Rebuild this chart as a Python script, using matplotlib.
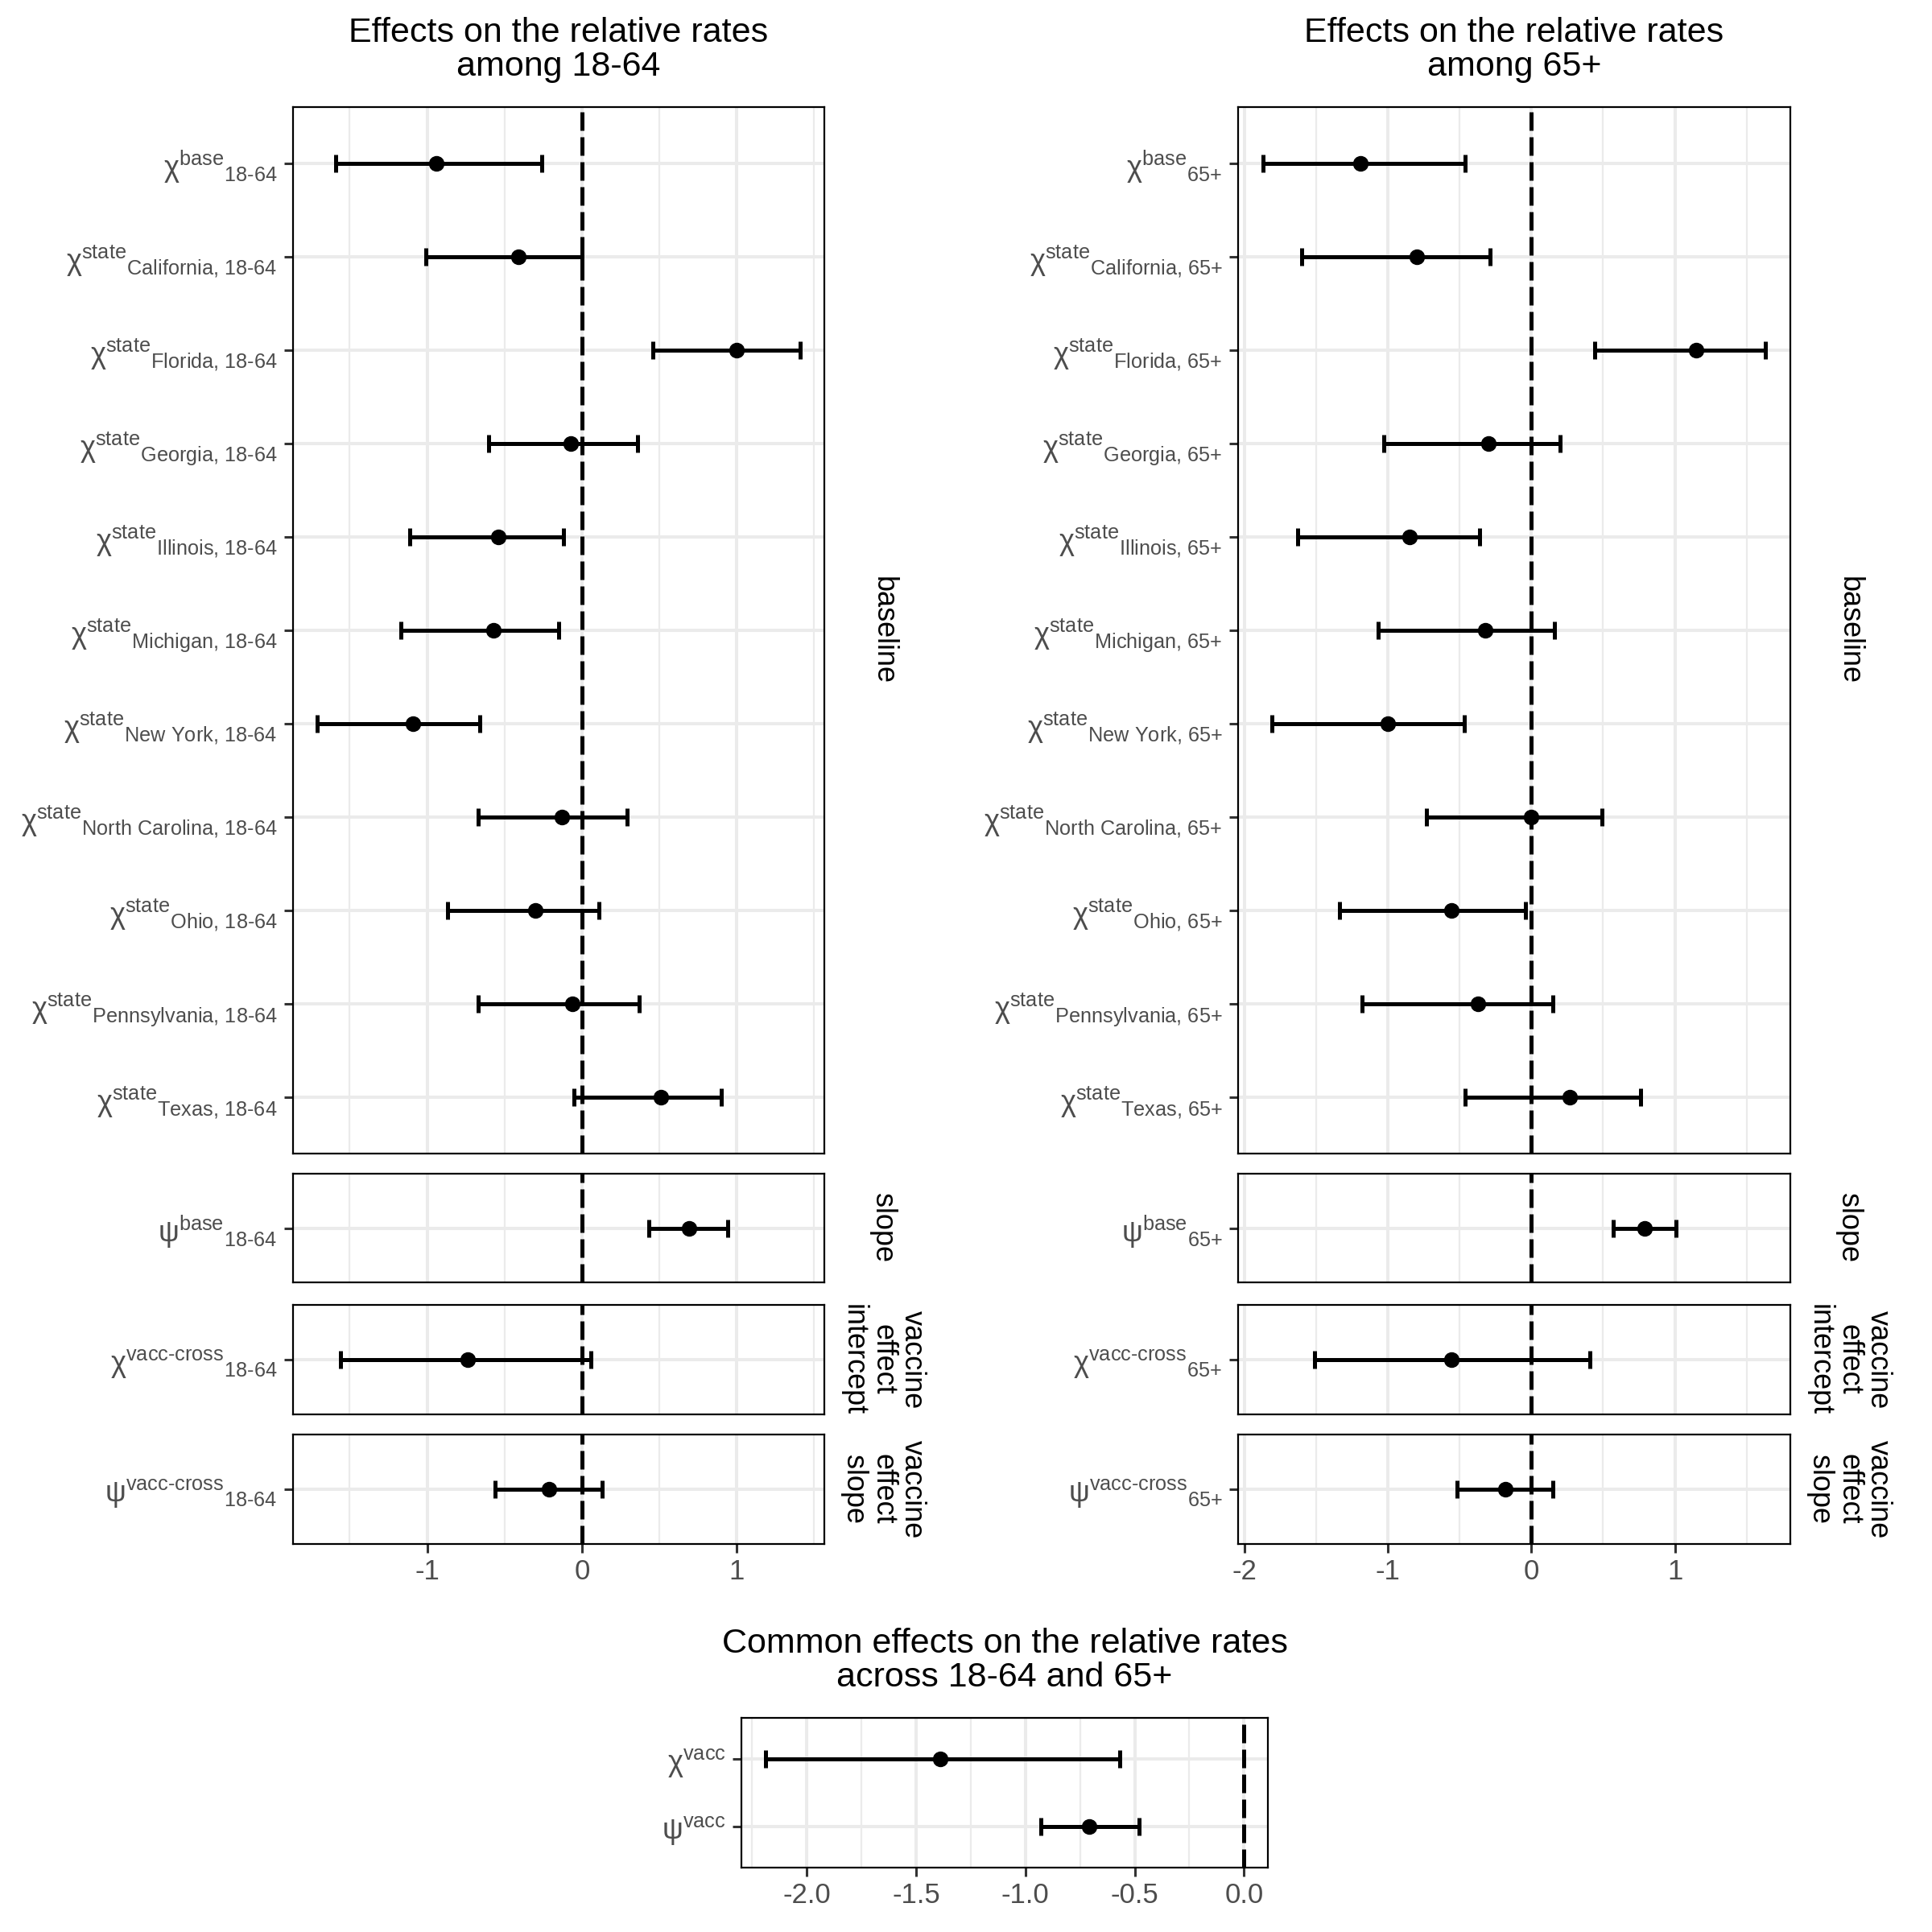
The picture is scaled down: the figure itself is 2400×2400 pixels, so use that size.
import matplotlib
matplotlib.use("Agg")
import matplotlib.pyplot as plt
import numpy as np
from matplotlib.ticker import MultipleLocator

plt.rcParams['font.family'] = ['Liberation Sans', 'DejaVu Sans']
plt.rcParams['mathtext.fontset'] = 'custom'
plt.rcParams['mathtext.rm'] = 'Liberation Sans'
plt.rcParams['mathtext.it'] = 'Liberation Sans:italic'
plt.rcParams['mathtext.bf'] = 'Liberation Sans:bold'
plt.rcParams['mathtext.sf'] = 'Liberation Sans'
plt.rcParams['axes.unicode_minus'] = False

# ---------------- data ----------------
states = ["California", "Florida", "Georgia", "Illinois", "Michigan", "New York",
          "North Carolina", "Ohio", "Pennsylvania", "Texas"]

# age group 18-64 : baseline (base + states)
y_base_est = [-0.94, -0.41, 1.00, -0.07, -0.54, -0.57, -1.09, -0.13, -0.30, -0.06, 0.51]
y_base_lo = [-1.59, -1.01, 0.46, -0.60, -1.11, -1.17, -1.71, -0.67, -0.87, -0.67, -0.05]
y_base_hi = [-0.26, 0.00, 1.41, 0.36, -0.12, -0.15, -0.66, 0.29, 0.11, 0.37, 0.90]
y_slope = [0.69, 0.43, 0.94]          # est, lo, hi
y_vint = [-0.74, -1.56, 0.06]
y_vslope = [-0.21, -0.56, 0.13]

# age group 65+
o_base_est = [-1.19, -0.80, 1.15, -0.30, -0.85, -0.32, -1.00, 0.00, -0.56, -0.37, 0.27]
o_base_lo = [-1.87, -1.60, 0.44, -1.03, -1.63, -1.07, -1.81, -0.73, -1.34, -1.18, -0.46]
o_base_hi = [-0.46, -0.29, 1.63, 0.20, -0.36, 0.16, -0.47, 0.49, -0.04, 0.15, 0.76]
o_slope = [0.79, 0.57, 1.01]
o_vint = [-0.56, -1.51, 0.41]
o_vslope = [-0.18, -0.52, 0.15]

# common effects
c_labels = ["chi", "psi"]
c_est = [-1.39, -0.71]
c_lo = [-2.19, -0.93]
c_hi = [-0.57, -0.48]

strips = ["baseline", "slope", "vaccine\neffect\nintercept", "vaccine\neffect\nslope"]
titles = ["Effects on the relative rates\namong 18-64", "Effects on the relative rates\namong 65+",
          "Common effects on the relative rates\nacross 18-64 and 65+"]

# ---------------- styling ----------------
W = H = 2400
fig = plt.figure(figsize=(24, 24), dpi=100)
GREY_TXT = '#4D4D4D'
GRID = '#EBEBEB'
LW = 3.6


def lab(sym, sup, sub=None):
    s = r'\mathrm{%s}^{\text{%s}}' % (sym, sup)
    if sub is None:
        return r'$%s$' % s
    return r'${%s}_{\text{%s}}$' % (s, sub)


def add_ax(x0, x1, y0, y1):
    return fig.add_axes([x0 / W, 1 - y1 / H, (x1 - x0) / W, (y1 - y0) / H])


def style(ax, xlim, major, minor, show_x):
    ax.set_xlim(*xlim)
    ax.xaxis.set_major_locator(MultipleLocator(major))
    ax.xaxis.set_minor_locator(MultipleLocator(minor))
    ax.grid(True, which='major', axis='both', color=GRID, lw=2.9, zorder=0)
    ax.grid(True, which='minor', axis='x', color=GRID, lw=1.6, zorder=0)
    ax.set_axisbelow(True)
    for s in ax.spines.values():
        s.set_color('black')
        s.set_linewidth(1.6)
    ax.tick_params(axis='y', which='major', length=8, width=2.2, color='#333333',
                   labelsize=26, labelcolor=GREY_TXT, pad=6)
    ax.tick_params(axis='x', which='minor', length=0)
    if show_x:
        ax.tick_params(axis='x', which='major', length=8, width=2.2, color='#333333',
                       labelsize=25, labelcolor=GREY_TXT, pad=5)
    else:
        ax.tick_params(axis='x', which='major', length=0, labelbottom=False)


def draw(ax, est, lo, hi, labels):
    n = len(est)
    ys = np.arange(n)[::-1] + 1.0
    est = np.asarray(est); lo = np.asarray(lo); hi = np.asarray(hi)
    ax.axvline(0, color='black', lw=LW, ls=(0, (4.6, 1.6)), zorder=1.5)
    ax.errorbar(est, ys, xerr=[est - lo, hi - est], fmt='o', color='black', ms=13,
                elinewidth=LW, capsize=7.9, capthick=LW, zorder=3)
    ax.set_ylim(0.4, n + 0.6)
    ax.set_yticks(ys)
    ax.set_yticklabels(labels)


def expand(lo, hi):
    a = min(min(lo), 0.0); b = max(max(hi), 0.0)
    r = b - a
    return (a - 0.05 * r, b + 0.05 * r)


rows = [(133, 1433), (1458, 1593), (1621, 1757), (1782, 1918)]
cols = [(364, 1024, 1097, '18-64', y_base_est, y_base_lo, y_base_hi, y_slope, y_vint, y_vslope),
        (1538, 2224, 2297, '65+', o_base_est, o_base_lo, o_base_hi, o_slope, o_vint, o_vslope)]

for ci, (x0, x1, xs, grp, be, bl, bh, sl, vi, vs) in enumerate(cols):
    all_lo = list(bl) + [sl[1], vi[1], vs[1]]
    all_hi = list(bh) + [sl[2], vi[2], vs[2]]
    xlim = expand(all_lo, all_hi)
    base_labels = [lab('χ', 'base', grp)] + [lab('χ', 'state', f'{s}, {grp}') for s in states]
    panels = [
        (be, bl, bh, base_labels),
        ([sl[0]], [sl[1]], [sl[2]], [lab('ψ', 'base', grp)]),
        ([vi[0]], [vi[1]], [vi[2]], [lab('χ', 'vacc-cross', grp)]),
        ([vs[0]], [vs[1]], [vs[2]], [lab('ψ', 'vacc-cross', grp)]),
    ]
    for ri, ((y0, y1), (e, l, h, labs)) in enumerate(zip(rows, panels)):
        ax = add_ax(x0, x1, y0, y1)
        draw(ax, e, l, h, labs)
        style(ax, xlim, 1.0, 0.5, ri == 3)
        fig.text(xs / W, 1 - (y0 + y1) / 2 / H, strips[ri], rotation=-90, ha='center',
                 va='center', fontsize=26, color='black', linespacing=1.06,
                 multialignment='center')
    fig.text((x0 + x1) / 2 / W, 1 - 62 / H, titles[ci], ha='center', va='center',
             fontsize=31, color='black', linespacing=1.08)

# common effects panel
ax = add_ax(921, 1575, 2134, 2320)
sym = {'chi': 'χ', 'psi': 'ψ'}
draw(ax, c_est, c_lo, c_hi, [lab(sym[c], 'vacc') for c in c_labels])
style(ax, expand(c_lo, c_hi), 0.5, 0.25, True)
ax.xaxis.set_major_formatter(matplotlib.ticker.FormatStrFormatter('%.1f'))
fig.text(1248 / W, 1 - 2063 / H, titles[2], ha='center', va='center', fontsize=31,
         color='black', linespacing=1.08)

fig.savefig('out.png', dpi=100, facecolor='white')
